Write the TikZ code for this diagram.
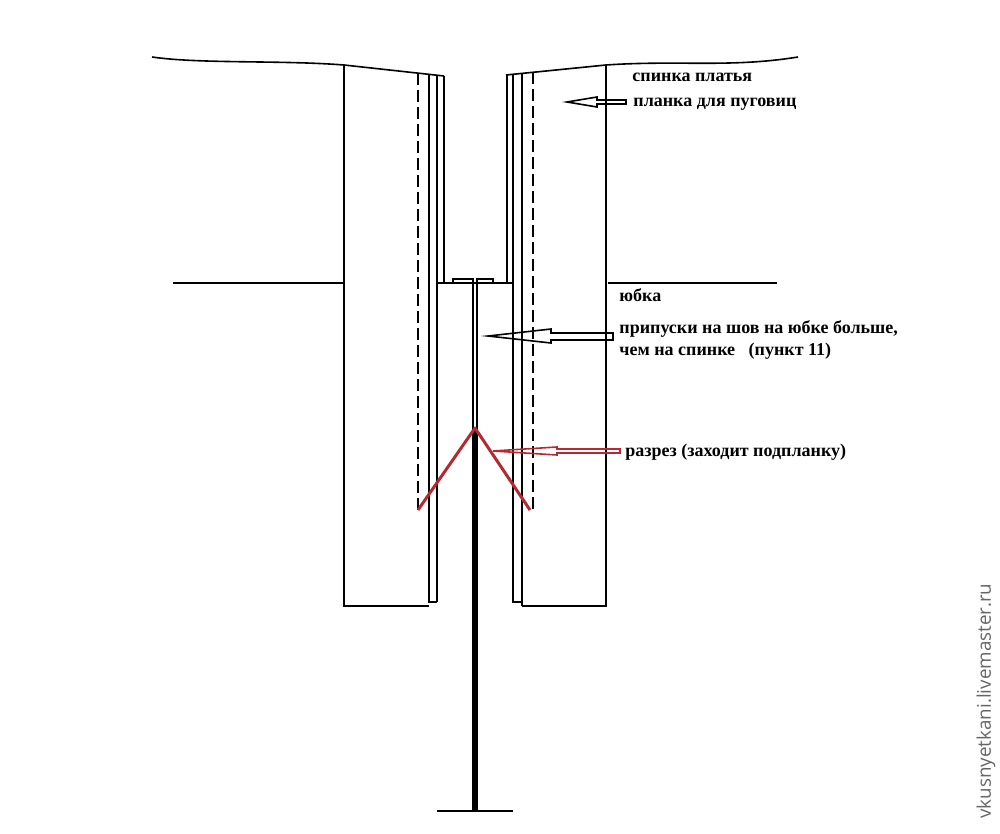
\documentclass[tikz,border=0pt]{standalone}
\usepackage{fontspec}
\setmainfont{Liberation Serif}
\newfontfamily\siteFont{Open Sans}
\definecolor{cutred}{RGB}{181,42,48}
\tikzset{
   seam/.style={black,line width=0.8pt},
   basting/.style={black,line width=0.8pt,dash pattern=on 6pt off 2.5pt},
   slit/.style={cutred,line width=1.5pt},
   pointer/.style={black,line width=0.8pt,line join=miter},
   note/.style={anchor=west,inner sep=0pt,font=\fontsize{9}{10.5}\selectfont\bfseries}
}
\begin{document}
\begin{tikzpicture}[x=0.5pt,y=-0.5pt]
   \useasboundingbox (0,0) rectangle (1000,834);
   % top edges
   \draw [seam] (152,57) .. controls (200,64) and (280,60) .. (344,65) -- (444,76);
   \draw [seam] (506,75) -- (606,65) .. controls (680,60) and (730,68) .. (798,57);
   % left panel
   \draw [seam] (344,65) -- (344,606) -- (429,606);
   \draw [seam] (429,74) -- (429,602) -- (437,602);
   \draw [seam] (437,75) -- (437,602);
   \draw [seam] (444,76) -- (444,283);
   \draw [basting] (418,73) -- (418,510);
   % right panel
   \draw [seam] (606,65) -- (606,606) -- (522,606);
   \draw [seam] (522,73) -- (522,606);
   \draw [seam] (513,74) -- (513,602) -- (522,602);
   \draw [seam] (507,75) -- (507,283);
   \draw [basting] (533,72) -- (533,510);
   % skirt
   \draw [seam] (173,283) -- (343,283);
   \draw [seam] (608,283) -- (777,283);
   \draw [seam] (437,283) -- (513,283);
   \draw [seam] (453,283) -- (453,279) -- (473,279) -- (473,283);
   \draw [seam] (477,283) -- (477,279) -- (493,279) -- (493,283);
   \draw [seam] (473,283) -- (473,430);
   \draw [seam] (477,283) -- (477,430);
   \draw [black,line width=3pt] (475,430) -- (475,811);
   \draw [seam] (437,811) -- (513,811);
   % slit
   \draw [slit,line join=round] (418,510) -- (475,428) -- (530,510);
   % arrows
   \draw [pointer] (567,102) -- (597,97) -- (597,100) -- (626,100) -- (626,104) -- (597,104) -- (597,107) -- cycle;
   \draw [pointer] (488,336) -- (551,329) -- (551,333) -- (613,333) -- (613,340) -- (551,340) -- (551,343) -- cycle;
   \draw [pointer,cutred] (493,451) -- (557,447) -- (557,449) -- (620,449) -- (620,453) -- (557,453) -- (557,455) -- cycle;
   % labels
   \node [note] (back) at (632,77) {спинка платья};
   \node [note] (placket) at (633,104) {планка для пуговиц};
   \node [note] (skirt) at (619,295) {юбка};
   \node [note] (allowance) at (619,329) {припуски на шов на юбке больше,};
   \node [note] (allowancetwo) at (619,351) {чем на спинке \ \ (пункт 11)};
   \node [note] (cut) at (625,452) {разрез (заходит подпланку)};
   \node [rotate=90,inner sep=0pt,text=black!60,font=\fontsize{9.4}{11}\selectfont\siteFont] (site) at (986,701) {vkusnyetkani.livemaster.ru};
\end{tikzpicture}
\end{document}
